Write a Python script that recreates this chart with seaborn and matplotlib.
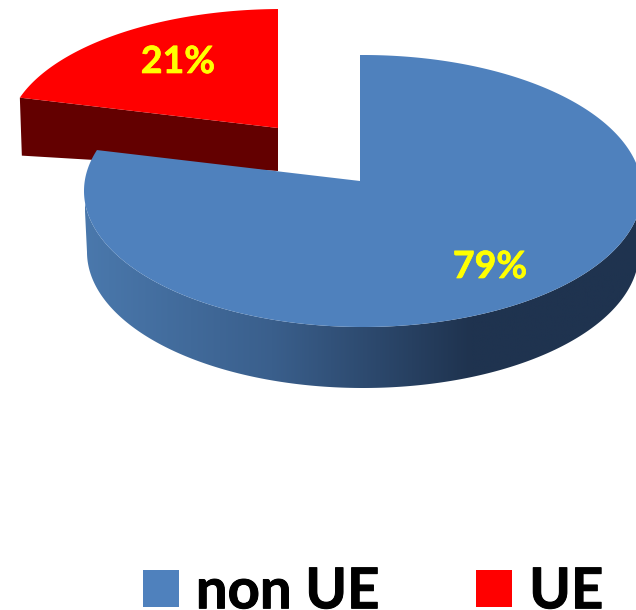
import numpy as np
import matplotlib.pyplot as plt
import seaborn as sns
import matplotlib.patheffects as pe
from matplotlib.colors import LinearSegmentedColormap
from matplotlib.patches import Patch, Polygon

categories = ['non UE', 'UE']
shares = [79, 21]
labels = ['79%', '21%']
colors = ['#4f81bd', '#ff0000']

sns.set_theme(style='white')
plt.rcParams['font.family'] = ['Lato', 'DejaVu Sans']

fig = plt.figure(figsize=(6.36, 6.10), dpi=100)
ax = fig.add_axes([0, 0, 1, 1])
ax.set_xlim(0, 636)
ax.set_ylim(610, 0)
ax.axis('off')

# slice angle clockwise from north
fractions = np.array(shares) / sum(shares)
blue_end = 2 * np.pi * fractions[0]
squash = 126 / 275


def ellipse_angle(apex, cx, cy, rx, ry, t):
    # where the slice edge leaving the apex hits the ellipse, the apex sits off centre
    dx, dy = np.sin(t), -np.cos(t) * squash
    ox, oy = (apex[0] - cx) / rx, (apex[1] - cy) / ry
    ux, uy = dx / rx, dy / ry
    a = ux ** 2 + uy ** 2
    b = 2 * (ox * ux + oy * uy)
    c = ox ** 2 + oy ** 2 - 1
    s = (-b + np.sqrt(b ** 2 - 4 * a * c)) / (2 * a)
    px, py = ox + s * ux, oy + s * uy
    return np.arctan2(px, -py) % (2 * np.pi)


def rim(cx, cy, rx, ry, a, b, n=400):
    t = np.linspace(a, b, n)
    return np.column_stack([cx + rx * np.sin(t), cy - ry * np.cos(t)])


# exploded red slice, drawn first so the blue one covers it
rc = (278, 128)
start = ellipse_angle(rc, 282, 136, 275, 127, blue_end)
stop = ellipse_angle(rc, 282, 136, 275, 127, 2 * np.pi)
red_top = rim(282, 136, 275, 127, start, stop)
left = red_top[0]
front = [left, rc, (rc[0], rc[1] + 43), (left[0] + 2, left[1] + 58)]
ax.add_patch(Polygon(front, closed=True, fc='#630000', ec='none', zorder=1))
ax.add_patch(Polygon(np.vstack([red_top, [rc]]), closed=True, fc=colors[1], ec='none', zorder=2))

# blue slice, side wall with gradient then top
bc = (360, 181)
cx, cy, rx, ry = 363, 191, 279, 136
depth = 61
blue_start = ellipse_angle(bc, cx, cy, rx, ry, 0)
blue_stop = ellipse_angle(bc, cx, cy, rx, ry, blue_end)
top_edge = rim(cx, cy, rx, ry, np.pi / 2, 1.5 * np.pi)
bot_edge = rim(cx, cy + depth, 276, ry, np.pi / 2, 1.5 * np.pi)
side = Polygon(np.vstack([top_edge, bot_edge[::-1]]), closed=True, fc='none', ec='none')
ax.add_patch(side)
cmap = LinearSegmentedColormap.from_list(
    'side', [(0, '#1f334f'), (0.3, '#1f334f'), (0.66, '#3a5f8c'), (1, '#4a78ac')])
grad = np.linspace(0, 1, 256)[::-1].reshape(1, -1)
im = ax.imshow(grad, extent=(85, 636, 400, 150), cmap=cmap, aspect='auto', zorder=3)
im.set_clip_path(side)
ax.set_xlim(0, 636)
ax.set_ylim(610, 0)

top = rim(cx, cy, rx, ry, blue_start - 2 * np.pi, blue_stop, 600)
ax.add_patch(Polygon(np.vstack([top, [bc]]), closed=True, fc=colors[0], ec='none', zorder=4))
ax.plot([bc[0] - 0.5, bc[0] - 0.5], [105, bc[1]], color='#1f334f', lw=0.6, alpha=0.5, zorder=3.5)

bold = [pe.withStroke(linewidth=0.5, foreground='#ffff00')]
ax.text(490, 267, labels[0], color='#ffff00', fontsize=27, fontweight='bold',
        ha='center', va='center', zorder=5, path_effects=bold)
ax.text(178, 62, labels[1], color='#ffff00', fontsize=27, fontweight='bold',
        ha='center', va='center', zorder=5, path_effects=bold)

handles = [Patch(fc=c, ec='none') for c in colors]
leg = ax.legend(handles, categories, loc='lower left', bbox_to_anchor=(143 / 636, -0.012), ncol=2,
                frameon=False, prop={'size': 40.5, 'weight': 'bold'}, handlelength=0.64,
                handleheight=0.64, handletextpad=0.3, columnspacing=1.73, borderpad=0,
                borderaxespad=0, labelcolor='black')
for t in leg.get_texts():
    t.set_path_effects([pe.withStroke(linewidth=0.7, foreground='black')])

fig.savefig('out.png', dpi=100)
